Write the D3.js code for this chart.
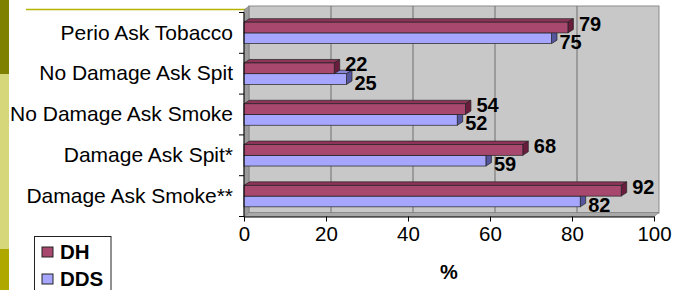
<!DOCTYPE html>
<html>
<head>
<meta charset="utf-8">
<script src="https://cdn.jsdelivr.net/npm/d3@7"></script>
<style>
  body { margin: 0; background: #fff; }
  svg { display: block; font-family: "Liberation Sans", Arial, sans-serif; }
</style>
</head>
<body>
<div class="horizontal-bar-chart"></div>
<script>
// data
const categories = ["Perio Ask Tobacco", "No Damage Ask Spit", "No Damage Ask Smoke", "Damage Ask Spit*", "Damage Ask Smoke**"];
const series = ["DH", "DDS"];
const dhValues = [79, 22, 54, 68, 92];
const ddsValues = [75, 25, 52, 59, 82];
const tickValues = [0, 20, 40, 60, 80, 100];

const colors = {
  DH: { front: "#a8486f", top: "#8e3459", side: "#6a1c3c" },
  DDS: { front: "#a6a6ff", top: "#8585da", side: "#55559e" }
};

const width = 677, height = 290;
const svg = d3.select(".horizontal-bar-chart")
  .append("svg")
  .attr("width", width)
  .attr("height", height);

// slide decoration on the left
svg.append("rect").attr("x", 0).attr("y", 0).attr("width", 9).attr("height", 74).attr("fill", "#808000");
svg.append("rect").attr("x", 0).attr("y", 74).attr("width", 9).attr("height", 175).attr("fill", "#d6d67a");
svg.append("rect").attr("x", 0).attr("y", 249).attr("width", 9).attr("height", 41).attr("fill", "#aea800");
svg.append("line").attr("x1", 26).attr("x2", 246).attr("y1", 9.5).attr("y2", 9.5)
  .attr("stroke", "#b4b400").attr("stroke-width", 1.5);

// scales
const x = d3.scaleLinear().domain([0, 100]).range([244, 654]);
const y = d3.scaleBand().domain(categories).range([12.5, 216.5]).padding(0);
const ySub = d3.scaleBand().domain(series).range([0, y.bandwidth()]).paddingInner(0).paddingOuter(0.9);

// 3d depth of walls and bars
const wdx = 5, wdy = -4;
const bdx = 5.5, bdy = -3.5;

const yTop = y.range()[0] - 3, yBottom = y.range()[1];

// back wall
svg.append("rect")
  .attr("x", x(0) + wdx).attr("y", yTop + wdy + 0.5)
  .attr("width", x(100) - x(0)).attr("height", yBottom - yTop)
  .attr("fill", "#c8c8c8").attr("stroke", "#8c8c8c");

// left wall + floor
svg.append("polygon")
  .attr("points", [[x(0), yTop + 0.5], [x(0) + wdx, yTop + wdy + 0.5], [x(0) + wdx, yBottom + wdy], [x(0), yBottom]].join(" "))
  .attr("fill", "#9c9c9c").attr("stroke", "#777").attr("stroke-width", 0.6);
svg.append("polygon")
  .attr("points", [[x(0), yBottom], [x(0) + wdx, yBottom + wdy], [x(100) + wdx, yBottom + wdy], [x(100), yBottom]].join(" "))
  .attr("fill", "#a8a8a8").attr("stroke", "#777").attr("stroke-width", 0.6);

// gridlines on the back wall
svg.append("g")
  .selectAll("line")
  .data(tickValues.slice(1, -1))
  .join("line")
  .attr("x1", d => x(d) + wdx).attr("x2", d => x(d) + wdx)
  .attr("y1", yTop + wdy + 0.5).attr("y2", yBottom + wdy)
  .attr("stroke", "#6e6e6e").attr("stroke-width", 1);

// bars, one record per category/series
const bars = [];
categories.forEach((c, i) => {
  bars.push({ cat: c, s: "DDS", value: ddsValues[i] });
  bars.push({ cat: c, s: "DH", value: dhValues[i] });
});

const barH = ySub.bandwidth();
const g = svg.append("g").attr("class", "bars");
const bar = g.selectAll("g").data(bars).join("g");

bar.append("polygon") // top face
  .attr("points", d => {
    const yb = y(d.cat) + ySub(d.s);
    return [[x(0), yb], [x(0) + bdx, yb + bdy], [x(d.value) + bdx, yb + bdy], [x(d.value), yb]].join(" ");
  })
  .attr("fill", d => colors[d.s].top)
  .attr("stroke", "#222").attr("stroke-width", 0.7);

bar.append("polygon") // right face
  .attr("points", d => {
    const yb = y(d.cat) + ySub(d.s);
    return [[x(d.value), yb], [x(d.value) + bdx, yb + bdy], [x(d.value) + bdx, yb + barH + bdy], [x(d.value), yb + barH]].join(" ");
  })
  .attr("fill", d => colors[d.s].side)
  .attr("stroke", "#222").attr("stroke-width", 0.7);

bar.append("rect") // front
  .attr("x", x(0))
  .attr("y", d => y(d.cat) + ySub(d.s))
  .attr("width", d => x(d.value) - x(0))
  .attr("height", barH)
  .attr("fill", d => colors[d.s].front)
  .attr("stroke", "#222").attr("stroke-width", 0.7);

// value labels
svg.append("g")
  .attr("font-weight", "bold")
  .attr("font-size", 20)
  .attr("fill", "#000")
  .selectAll("text")
  .data(bars)
  .join("text")
  .attr("x", d => x(d.value) + (d.s === "DH" ? 11 : 8))
  .attr("y", d => y(d.cat) + ySub(d.s) + barH / 2 + (d.s === "DH" ? -4 : 3.5))
  .attr("dy", "0.35em")
  .text(d => d.value);

// x axis
const xAxis = svg.append("g")
  .attr("transform", "translate(0," + yBottom + ")")
  .call(d3.axisBottom(x).tickValues(tickValues).tickSize(5).tickSizeOuter(0).tickPadding(5));
xAxis.select(".domain").attr("stroke", "#000");
xAxis.selectAll("text").attr("font-size", 20.5).attr("font-family", "Liberation Sans, Arial, sans-serif").attr("fill", "#000");

// y axis: labels at band centres, ticks at band edges
const yAxis = svg.append("g")
  .attr("transform", "translate(" + x(0) + ",0)")
  .call(d3.axisLeft(y).tickSize(0).tickPadding(11));
yAxis.select(".domain").remove();
yAxis.selectAll("text").attr("font-size", 21).attr("font-family", "Liberation Sans, Arial, sans-serif").attr("fill", "#000");

svg.append("line")
  .attr("x1", x(0)).attr("x2", x(0))
  .attr("y1", y.range()[0]).attr("y2", yBottom)
  .attr("stroke", "#000");
svg.append("g")
  .selectAll("line")
  .data(categories.map(c => y(c)).concat([yBottom]))
  .join("line")
  .attr("x1", x(0) - 5).attr("x2", x(0))
  .attr("y1", d => d).attr("y2", d => d)
  .attr("stroke", "#000");

// axis title
svg.append("text")
  .attr("x", (x(0) + x(100)) / 2)
  .attr("y", 272)
  .attr("dy", "0.35em")
  .attr("text-anchor", "middle")
  .attr("font-weight", "bold")
  .attr("font-size", 20)
  .text("%");

// legend
const legend = svg.append("g");
legend.append("rect")
  .attr("x", 34.5).attr("y", 236.5).attr("width", 76.5).attr("height", 60)
  .attr("fill", "#fff").attr("stroke", "#222");
const legendItems = legend.selectAll("g.item")
  .data(series)
  .join("g")
  .attr("class", "item")
  .attr("transform", (d, i) => "translate(42," + (247 + i * 27) + ")");
legendItems.append("rect")
  .attr("width", 11).attr("height", 10)
  .attr("fill", d => colors[d].front)
  .attr("stroke", "#222");
legendItems.append("text")
  .attr("x", 18).attr("y", 5)
  .attr("dy", "0.35em")
  .attr("font-weight", "bold")
  .attr("font-size", 20.5)
  .text(d => d);
</script>
</body>
</html>
